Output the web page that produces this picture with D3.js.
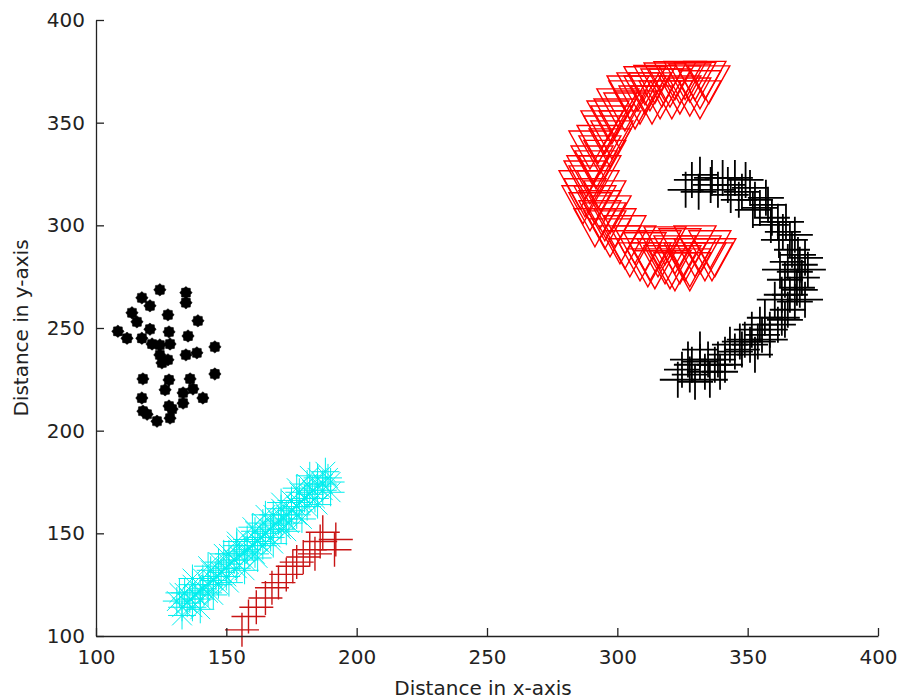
<!DOCTYPE html>
<html>
<head>
<meta charset="utf-8">
<script src="https://cdn.jsdelivr.net/npm/d3@7"></script>
<style>
  body { margin: 0; background: #fff; }
  svg { display: block; }
</style>
</head>
<body>
<div id="chart"></div>
<script>
// tick values for both axes
var xTicks = [100, 150, 200, 250, 300, 350, 400];
var yTicks = [100, 150, 200, 250, 300, 350, 400];

// black filled dots (left cluster)
var blackDots = [
  [124.5,268.6],[134.5,267.2],[134.5,262.3],[117.6,264.7],[120.7,260.8],[113.8,257.4],
  [115.7,253.0],[127.6,256.4],[139.1,253.5],[108.4,248.4],[111.9,245.0],[120.7,249.4],
  [117.6,245.0],[128.0,248.1],[135.3,246.1],[121.5,242.2],[124.5,241.7],[128.4,242.2],
  [145.6,240.8],[124.5,236.9],[134.5,236.9],[138.7,237.9],[125.3,233.0],[127.6,234.5],
  [145.6,227.6],[118.0,225.2],[128.0,224.7],[136.1,225.2],[126.5,219.9],[133.4,218.4],
  [137.2,220.3],[117.6,215.9],[141.0,215.9],[133.4,213.4],[128.0,212.0],[118.0,209.5],
  [119.6,208.0],[123.4,204.6],[128.4,206.1],[129.2,210.5]
];

// cyan asterisks (lower diagonal band)
var cyanStars = [
  [133,114],[131,117],[133,110],[135,116],[137,114],[136,118],[134,121],[138,120],[140,118],
  [140,122],[137,125],[141,123],[143,121],[143,125],[141,128],[145,127],[147,125],
  [146,129],[144,132],[148,131],[150,129],[150,133],[147,136],[151,135],[154,133],
  [153,137],[151,140],[155,139],[157,137],[157,141],[154,144],[158,142],[161,140],
  [160,144],[158,147],[162,146],[164,144],[163,148],[161,151],[165,150],[167,148],
  [167,152],[164,155],[168,154],[171,152],[170,156],[168,159],[172,157],[174,155],
  [173,159],[171,162],[175,161],[177,159],[177,163],[175,166],[178,165],[181,163],
  [180,167],[178,170],[182,169],[184,167],[183,171],[181,174],[185,173],[187,171],
  [187,174],[185,177],[189,177],[190,175],[188,180],
  [140,113],[132,121],[145,120],[137,128],[151,126],[143,134],[157,132],[149,140],
  [162,138],[154,146],[168,145],[160,153],[173,151],[165,159],[179,157],[171,165],
  [185,164],[177,172],[190,170],[182,178]
];

// dark red plus markers (below the cyan band)
var redPluses = [
  [156,103],[158.5,109.5],[161.5,114],[165,118.5],[167.5,123.5],[170,126],[173,130],
  [175.5,134],[179.5,138.5],[182,142],[186,146],[187,150.5],[192,147],[191.5,142],
  [177,136],[184,140]
];

// red down-triangles (upper right "C")
var redTriangles = [
  [335.1,368.4],[331.7,366.0],[327.8,369.3],[324.0,363.5],[320.2,366.9],[316.4,361.1],
  [312.5,365.0],[308.7,358.6],[304.8,361.1],[302.9,355.2],[299.1,352.3],[301.0,346.5],
  [295.2,344.0],[297.2,337.7],[293.3,334.3],[290.3,329.4],[293.3,324.6],[287.6,322.1],
  [292.6,317.3],[287.6,313.4],[291.4,310.0],[295.2,312.4],[297.2,305.1],[293.3,302.7],
  [299.1,298.8],[302.9,295.4],[301.0,290.5],[306.7,290.5],[310.6,287.1],[312.5,282.2],
  [316.4,288.1],[318.3,280.8],[322.1,285.6],[326.0,282.2],[329.8,284.2],[333.6,282.2],
  [336.3,282.2],[327.8,279.3],[314.4,278.4],
  [331.7,361.1],[327.8,362.5],[324.0,368.4],[320.9,361.1],[317.1,366.9],[313.3,358.6],
  [310.6,363.5],[306.8,356.2],[304.1,363.5],[300.2,357.2],[333.6,370.6],[329.8,370.2],
  [326.0,370.5],[322.1,370.4],[318.3,369.8],[314.4,368.6],[310.6,368.0],[307.9,365.0],
  [297.9,348.9],[296.4,351.3],[294.1,346.5],[297.9,341.6],[292.6,339.4],[295.2,332.1],
  [289.5,336.7],[291.8,327.0],[288.7,324.6],[285.7,317.3],[289.5,319.7],[286.8,310.0],
  [293.3,307.6],[289.5,306.6],[295.2,301.7],[291.4,298.8],[297.2,293.9],[295.2,297.8],
  [302.9,288.1],[304.8,284.2],[308.7,282.2],[311.7,279.3],[315.6,284.2],[320.2,278.4],
  [324.0,280.8],[331.7,285.6],[335.5,288.1],[337.4,284.2],[318.3,290.0],[324.0,289.1],
  [329.8,290.5],[327.8,277.4],[322.1,277.4]
];

// black plus markers (right arc)
var blackPluses = [
  [328.6,322.1],[331.7,324.6],[336.3,323.1],[338.6,317.3],[342.4,319.7],[345.1,323.1],
  [347.8,316.3],[350.9,318.2],[352.8,312.4],[354.7,308.5],[357.8,310.0],[359.3,303.7],
  [361.6,301.7],[363.5,296.8],[366.2,292.9],[367.0,288.1],[369.3,285.6],[372.0,284.2],
  [370.0,280.8],[368.1,277.4],[370.8,274.5],[368.9,269.6],[366.2,266.2],[368.1,262.8],
  [365.4,258.9],[363.1,255.0],[361.6,251.6],[358.5,249.2],[355.5,246.7],[353.9,243.4],
  [350.9,241.9],[347.8,239.5],[345.1,238.5],[341.3,237.0],[338.6,234.6],[334.8,234.6],
  [331.7,233.6],[328.6,232.1],[324.8,229.7],[327.8,227.3],[333.6,228.7],[337.4,232.1],
  [348.9,244.3],[354.7,251.6],[360.4,263.8],[362.4,278.4],
  [326.2,317.3],[331.2,316.3],[335.8,319.7],[340.4,323.1],[343.5,314.8],[349.2,322.1],
  [346.6,312.4],[352.0,307.5],[357.0,313.4],[358.9,300.2],[364.7,301.7],[362.0,292.9],
  [368.1,295.4],[365.4,282.2],[373.1,278.4],[364.3,273.5],[370.0,268.6],[363.1,266.2],
  [372.0,263.8],[364.3,254.0],[358.5,244.3],[356.6,255.0],[351.6,249.2],[347.0,243.4],
  [343.2,241.9],[339.4,228.7],[331.7,239.5],[327.1,234.6],[323.2,224.8],[329.8,223.8],
  [335.5,224.8],[341.3,232.1],[352.8,237.0]
];

var width = 899;
var height = 700;
var margin = {top: 20, right: 21, bottom: 64, left: 96};
var font = "'DejaVu Sans', sans-serif";

var svg = d3.select('#chart')
    .append('svg')
    .attr('width', width)
    .attr('height', height);

var x = d3.scaleLinear()
    .domain([100, 400])
    .range([margin.left, width - margin.right]);

var y = d3.scaleLinear()
    .domain([100, 400])
    .range([height - margin.bottom, margin.top]);

// marker shapes
function starPath(r1, r2) {
    var p = [];
    for (var i = 0; i < 16; i++) {
        var a = i * Math.PI / 8;
        var r = i % 2 == 0 ? r1 : r2;
        p.push([r * Math.sin(a), -r * Math.cos(a)]);
    }
    return 'M' + p.map(function(d) { return d[0].toFixed(2) + ',' + d[1].toFixed(2); }).join('L') + 'Z';
}
function asteriskPath(r) {
    var d = r * 0.7071;
    return 'M' + (-r) + ',0H' + r + 'M0,' + (-r) + 'V' + r +
        'M' + (-d) + ',' + (-d) + 'L' + d + ',' + d +
        'M' + (-d) + ',' + d + 'L' + d + ',' + (-d);
}
function plusPath(r) {
    return 'M' + (-r) + ',0H' + r + 'M0,' + (-r) + 'V' + r;
}
function triDownPath(w, h) {
    return 'M' + (-w / 2) + ',' + (-h / 2) + 'L' + (w / 2) + ',' + (-h / 2) + 'L0,' + (h / 2) + 'Z';
}

function drawMarkers(data, path, stroke, fill, sw) {
    svg.append('g')
        .selectAll('path')
        .data(data)
        .enter()
        .append('path')
        .attr('transform', function(d) { return 'translate(' + x(d[0]) + ',' + y(d[1]) + ')'; })
        .attr('d', path)
        .attr('fill', fill)
        .attr('stroke', stroke)
        .attr('stroke-width', sw);
}

drawMarkers(blackDots, starPath(6.2, 5), '#000', '#000', 0.5);
drawMarkers(cyanStars, asteriskPath(14), '#00eeee', 'none', 1);
drawMarkers(redPluses, plusPath(17), '#c81414', 'none', 1.4);
drawMarkers(redTriangles, triDownPath(42, 38), '#ff0000', 'none', 1.4);
drawMarkers(blackPluses, plusPath(18), '#000', 'none', 1.8);

// axes, ticks pointing inward
var xAxis = svg.append('g')
    .attr('transform', 'translate(0,' + (height - margin.bottom) + ')')
    .call(d3.axisBottom(x).tickValues(xTicks).tickSizeInner(-8).tickSizeOuter(0).tickPadding(14));

var yAxis = svg.append('g')
    .attr('transform', 'translate(' + margin.left + ',0)')
    .call(d3.axisLeft(y).tickValues(yTicks).tickSizeInner(-8).tickSizeOuter(0).tickPadding(11));

[xAxis, yAxis].forEach(function(g) {
    g.selectAll('text').attr('font-family', font).attr('font-size', 20).attr('fill', '#222');
    g.selectAll('line').attr('stroke', '#222').attr('stroke-width', 1.3);
    g.select('.domain').attr('stroke', '#222').attr('stroke-width', 1.3);
});

svg.append('text')
    .attr('x', (x(100) + x(400)) / 2 - 4)
    .attr('y', 695)
    .attr('text-anchor', 'middle')
    .attr('font-family', font)
    .attr('font-size', 20)
    .attr('fill', '#222')
    .text('Distance in x-axis');

svg.append('text')
    .attr('transform', 'translate(28,' + ((y(100) + y(400)) / 2) + ') rotate(-90)')
    .attr('text-anchor', 'middle')
    .attr('font-family', font)
    .attr('font-size', 20)
    .attr('fill', '#222')
    .text('Distance in y-axis');
</script>
</body>
</html>
